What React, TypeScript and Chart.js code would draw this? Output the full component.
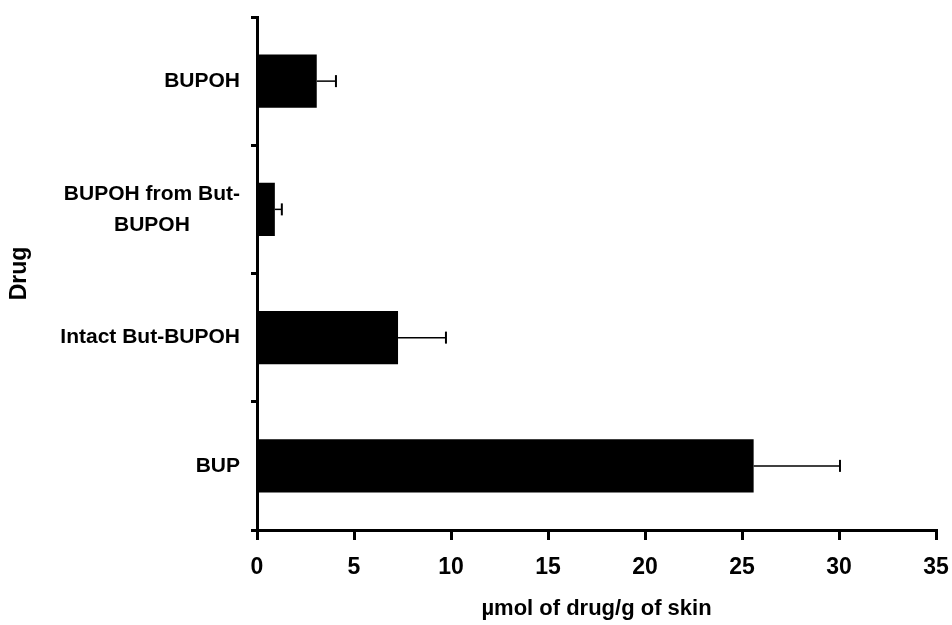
import React, { useEffect, useRef } from "react";
import { Chart, registerables } from "chart.js";

Chart.register(...registerables);

const categories: (string | string[])[] = [
  "BUPOH",
  ["BUPOH from But-", "BUPOH"],
  "Intact But-BUPOH",
  "BUP",
];
const means = [3.08, 0.92, 7.27, 25.6];
const errors = [0.99, 0.36, 2.47, 4.45];
const xTicks = [0, 5, 10, 15, 20, 25, 30, 35];
const xTitle = "µmol of drug/g of skin";
const yTitle = "Drug";

const LABEL_FONT = "bold 21px 'Liberation Sans', Arial, sans-serif";

const overlayPlugin = {
  id: "overlay",
  afterDatasetsDraw(chart: any) {
    const { ctx } = chart;
    const xs = chart.scales.x;
    const ys = chart.scales.y;
    ctx.save();
    ctx.strokeStyle = "#000";
    means.forEach((m, i) => {
      const y = ys.getPixelForValue(i);
      const x0 = xs.getPixelForValue(m);
      const x1 = xs.getPixelForValue(m + errors[i]);
      ctx.lineWidth = 1.5;
      ctx.beginPath();
      ctx.moveTo(x0, y);
      ctx.lineTo(x1, y);
      ctx.stroke();
      ctx.lineWidth = 2;
      ctx.beginPath();
      ctx.moveTo(x1, y - 6);
      ctx.lineTo(x1, y + 6);
      ctx.stroke();
    });
    ctx.restore();
  },
  afterDraw(chart: any) {
    const { ctx } = chart;
    const ys = chart.scales.y;
    ctx.save();
    ctx.fillStyle = "#000";
    ctx.font = LABEL_FONT;
    ctx.textBaseline = "middle";
    ctx.textAlign = "center";
    const right = chart.chartArea.left - 17;
    const lh = 31;
    categories.forEach((c, i) => {
      const lines = Array.isArray(c) ? c : [c];
      const maxW = Math.max(...lines.map((l) => ctx.measureText(l).width));
      const cx = right - maxW / 2;
      const cy = ys.getPixelForValue(i);
      lines.forEach((l, j) => {
        ctx.fillText(l, cx, cy + (j - (lines.length - 1) / 2) * lh);
      });
    });
    ctx.translate(20, (chart.chartArea.top + chart.chartArea.bottom) / 2);
    ctx.rotate(-Math.PI / 2);
    ctx.font = "bold 23px 'Liberation Sans', Arial, sans-serif";
    ctx.fillText(yTitle, 0, 0);
    ctx.restore();
  },
};

export default function App() {
  const ref = useRef<HTMLCanvasElement | null>(null);
  useEffect(() => {
    if (!ref.current) return;
    const chart = new Chart(ref.current, {
      type: "bar",
      data: {
        labels: categories as any,
        datasets: [
          {
            data: means,
            backgroundColor: "#000",
            borderColor: "#000",
            borderWidth: 0,
            barPercentage: 0.415,
            categoryPercentage: 1,
          },
        ],
      },
      options: {
        indexAxis: "y",
        animation: false,
        responsive: false,
        maintainAspectRatio: false,
        layout: { padding: { top: 17, right: 16, left: 0, bottom: 0 } },
        plugins: {
          legend: { display: false },
          tooltip: { enabled: false },
        },
        scales: {
          x: {
            min: 0,
            max: 35,
            afterBuildTicks(scale: any) {
              scale.ticks = xTicks.map((v) => ({ value: v }));
            },
            afterFit(scale: any) {
              scale.height = 95;
              scale.paddingLeft = 0;
              scale.paddingRight = 0;
            },
            border: { display: true, color: "#000", width: 3 },
            grid: {
              drawOnChartArea: false,
              drawTicks: true,
              tickLength: 10,
              color: "#000",
              lineWidth: 3,
            },
            ticks: {
              color: "#000",
              padding: 14,
              maxRotation: 0,
              font: {
                family: "'Liberation Sans', Arial, sans-serif",
                weight: "bold",
                size: 23,
              },
            },
            title: {
              display: true,
              text: xTitle,
              color: "#000",
              padding: { top: 0, bottom: 3 },
              font: {
                family: "'Liberation Sans', Arial, sans-serif",
                weight: "bold",
                size: 22,
                lineHeight: 1.2,
              },
            },
          },
          y: {
            afterFit(scale: any) {
              scale.width = 257;
            },
            border: { display: true, color: "#000", width: 3 },
            grid: {
              drawOnChartArea: false,
              drawTicks: true,
              tickLength: 6,
              color: "#000",
              lineWidth: 3,
              offset: true,
            },
            ticks: { display: false },
          },
        },
      },
      plugins: [overlayPlugin],
    });
    return () => chart.destroy();
  }, []);
  return (
    <div style={{ position: "fixed", left: 0, top: 0, width: 952, height: 625, background: "#fff" }}>
      <canvas ref={ref} width={952} height={625} style={{ width: 952, height: 625, display: "block" }} />
    </div>
  );
}
